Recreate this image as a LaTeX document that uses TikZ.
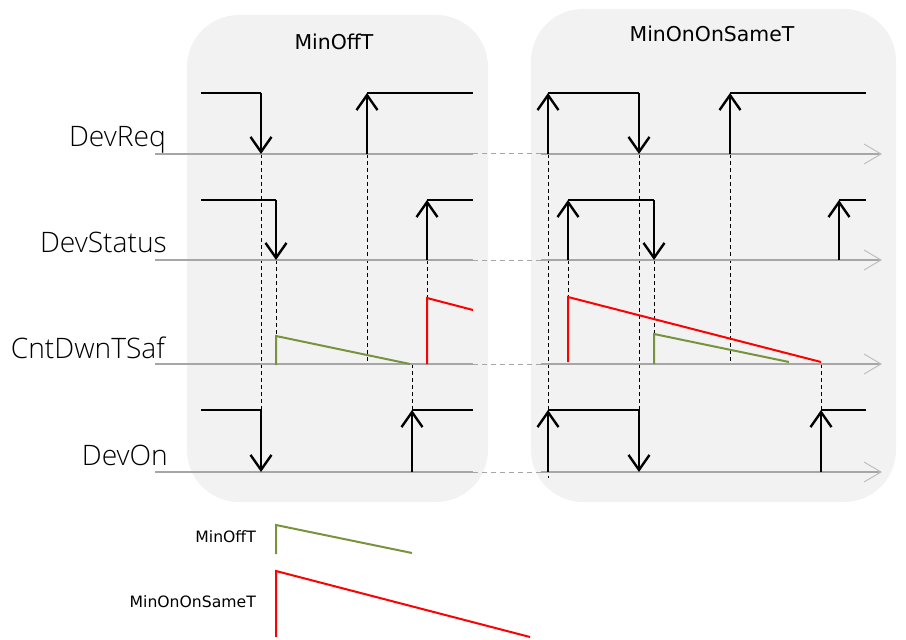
\documentclass[tikz,border=0pt]{standalone}
\usepackage{fontspec}
\setmainfont{Open Sans}[UprightFont=* Light]
\newfontfamily\titlefont{DejaVu Sans}
\usetikzlibrary{arrows.meta}
\definecolor{panelfill}{HTML}{F2F2F2}
\definecolor{axisgray}{HTML}{A6A6A6}
\definecolor{arrgray}{HTML}{BFBFBF}
\definecolor{rampgreen}{HTML}{77933C}
\definecolor{rampred}{HTML}{FF0000}
\tikzset{
  panel/.style={fill=panelfill, draw=none, rounded corners=52bp},
  axisline/.style={axisgray, line width=2bp},
  axislink/.style={axisgray, line width=1bp, dash pattern=on 5bp off 4bp},
  axishead/.style={arrgray, line width=1bp},
  guide/.style={black, line width=0.9bp, dash pattern=on 4bp off 3bp},
  sig/.style={black, line width=2.4bp},
  sigarr/.style={sig, -{Straight Barb[length=15bp,width=21bp]}},
  ramp/.style={line width=2bp},
  siglabel/.style={anchor=base east, font=\fontsize{28.3}{31}\selectfont, text=black, inner sep=0pt},
  title/.style={font=\titlefont\fontsize{20.5}{24}\selectfont, inner sep=0pt},
  legend/.style={anchor=east, font=\titlefont\fontsize{15.7}{18}\selectfont, inner sep=0pt},
}
\begin{document}
\begin{tikzpicture}[x=1bp,y=-1bp]
\useasboundingbox (0,0) rectangle (906,640);
% panels
\fill[panel] (187,15) rectangle (488,502);
\fill[panel] (531,9) rectangle (896,502);
\node[title] (t1) at (334,42) {MinOffT};
\node[title] (t2) at (712,34) {MinOnOnSameT};
% guides (dashed verticals)
\draw[guide] (261,154) -- (261,410);
\draw[guide] (276,260) -- (276,336);
\draw[guide] (367,154) -- (367,364);
\draw[guide] (427,260) -- (427,298);
\draw[guide] (412,364) -- (412,410);
\draw[guide] (548,154) -- (548,478);
\draw[guide] (568,260) -- (568,297);
\draw[guide] (639,154) -- (639,410);
\draw[guide] (654,260) -- (654,334);
\draw[guide] (730,154) -- (730,364);
\draw[guide] (821,364) -- (821,410);
% axes
\foreach \yy in {154,260,364,472}{
  \draw[axisline] (155,\yy) -- (473,\yy);
  \draw[axislink] (473,\yy) -- (541,\yy);
  \draw[axisline] (541,\yy) -- (881,\yy);
  \draw[axishead] (864,\yy-10) -- (881,\yy) -- (864,\yy+10);
}
% labels
\node[siglabel] (l1) at (166,147) {DevReq};
\node[siglabel] (l2) at (167,253) {DevStatus};
\node[siglabel] (l3) at (165,358) {CntDwnTSaf};
\node[siglabel] (l4) at (168,465) {DevOn};
% ramps
\draw[ramp, rampgreen] (276,365) -- (276,336) -- (410,364);
\draw[ramp, rampred] (427,364) -- (427,298) -- (473,310);
\draw[ramp, rampred] (568,362) -- (568,297) -- (821,362);
\draw[ramp, rampgreen] (654,364) -- (654,334) -- (789,362);
% DevReq left
\draw[sig] (201,93) -- (261,93);
\draw[sigarr] (261,93) -- (261,154);
\draw[sigarr] (367,154) -- (367,93);
\draw[sig] (367,93) -- (473,93);
% DevStatus left
\draw[sig] (201,200) -- (276,200);
\draw[sigarr] (276,200) -- (276,260);
\draw[sigarr] (427,260) -- (427,200);
\draw[sig] (427,200) -- (473,200);
% DevOn left
\draw[sig] (201,410) -- (261,410);
\draw[sigarr] (261,410) -- (261,472);
\draw[sigarr] (412,472) -- (412,410);
\draw[sig] (412,410) -- (473,410);
% DevReq right
\draw[sigarr] (548,154) -- (548,93);
\draw[sig] (548,93) -- (639,93);
\draw[sigarr] (639,93) -- (639,154);
\draw[sigarr] (730,154) -- (730,93);
\draw[sig] (730,93) -- (866,93);
% DevStatus right
\draw[sigarr] (568,260) -- (568,200);
\draw[sig] (568,200) -- (654,200);
\draw[sigarr] (654,200) -- (654,260);
\draw[sigarr] (839,260) -- (839,200);
\draw[sig] (839,200) -- (866,200);
% DevOn right
\draw[sigarr] (548,472) -- (548,410);
\draw[sig] (548,410) -- (639,410);
\draw[sigarr] (639,410) -- (639,472);
\draw[sigarr] (821,472) -- (821,410);
\draw[sig] (821,410) -- (866,410);
% legend
\node[legend] (g1) at (256,537) {MinOffT};
\node[legend] (g2) at (256,602) {MinOnOnSameT};
\draw[ramp, rampgreen] (276,554) -- (276,525) -- (412,553);
\draw[ramp, rampred] (276,637) -- (276,571) -- (530,637);
\end{tikzpicture}
\end{document}
